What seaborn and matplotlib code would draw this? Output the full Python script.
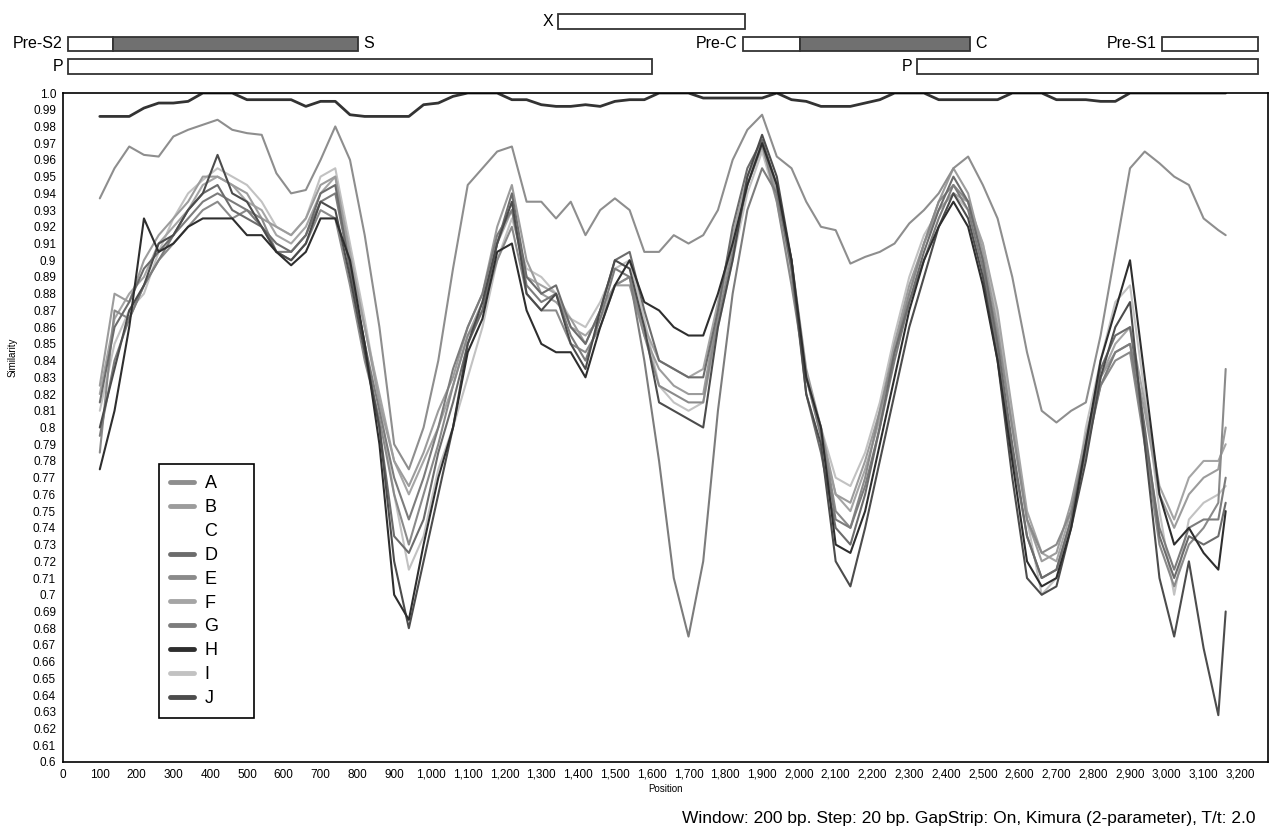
import numpy as np
import pandas as pd
import matplotlib
matplotlib.use('Agg')
import matplotlib.pyplot as plt
from matplotlib.lines import Line2D
from matplotlib.ticker import MultipleLocator, FuncFormatter
import seaborn as sns

# window midpoints (bp)
positions = list(range(100, 3141, 40)) + [3160]

top_line = [.986, .986, .986, .991, .994, .994, .995, 1.0, 1.0, 1.0,
            .996, .996, .996, .996, .992, .995, .995, .987, .986, .986,
            .986, .986, .993, .994, .998, 1.0, 1.0, 1.0, .996, .996,
            .993, .992, .992, .993, .992, .995, .996, .996, 1.0, 1.0,
            1.0, .997, .997, .997, .997, .997, 1.0, .996, .995, .992,
            .992, .992, .994, .996, 1.0, 1.0, 1.0, .996, .996, .996,
            .996, .996, 1.0, 1.0, 1.0, .996, .996, .996, .995, .995,
            1.0, 1.0, 1.0, 1.0, 1.0, 1.0, 1.0, 1.0]

seq_a = [.937, .955, .968, .963, .962, .974, .978, .981, .984, .978,
         .976, .975, .952, .940, .942, .960, .980, .960, .915, .860,
         .790, .775, .800, .840, .895, .945, .955, .965, .968, .935,
         .935, .925, .935, .915, .930, .937, .930, .905, .905, .915,
         .910, .915, .930, .960, .978, .987, .962, .955, .935, .920,
         .918, .898, .902, .905, .910, .922, .930, .940, .955, .962,
         .945, .925, .890, .845, .810, .803, .810, .815, .855, .905,
         .955, .965, .958, .950, .945, .925, .918, .915]

seq_b = [.825, .880, .875, .900, .915, .925, .935, .950, .950, .945,
         .940, .925, .920, .915, .925, .945, .950, .900, .860, .815,
         .780, .765, .785, .810, .830, .860, .880, .920, .945, .900,
         .880, .875, .865, .850, .870, .885, .885, .855, .835, .825,
         .820, .820, .870, .910, .945, .968, .940, .900, .835, .800,
         .760, .755, .780, .810, .850, .885, .910, .935, .955, .940,
         .905, .860, .800, .745, .720, .725, .755, .795, .830, .845,
         .850, .810, .760, .740, .760, .770, .775, .800]

seq_d = [.815, .860, .875, .895, .905, .915, .930, .940, .945, .930,
         .925, .920, .910, .905, .915, .940, .945, .895, .850, .800,
         .735, .725, .745, .785, .815, .850, .870, .910, .940, .890,
         .880, .885, .860, .850, .870, .900, .905, .870, .840, .835,
         .830, .830, .870, .920, .955, .972, .945, .895, .820, .785,
         .740, .730, .760, .800, .845, .875, .905, .930, .950, .935,
         .900, .850, .790, .735, .710, .715, .745, .790, .835, .855,
         .860, .800, .735, .710, .735, .730, .735, .755]

seq_e = [.785, .870, .865, .885, .900, .910, .920, .930, .935, .925,
         .930, .925, .905, .900, .910, .930, .925, .885, .840, .805,
         .760, .730, .760, .790, .825, .855, .870, .900, .920, .880,
         .870, .870, .850, .845, .860, .885, .890, .855, .825, .820,
         .815, .815, .865, .905, .945, .970, .935, .885, .830, .800,
         .750, .740, .770, .810, .845, .880, .910, .935, .945, .935,
         .900, .855, .800, .745, .725, .730, .750, .790, .825, .840,
         .845, .790, .730, .705, .730, .740, .755, .835]

seq_f = [.820, .865, .880, .890, .910, .920, .930, .945, .950, .945,
         .935, .930, .915, .910, .920, .940, .950, .905, .860, .820,
         .780, .760, .780, .800, .825, .855, .875, .910, .930, .890,
         .885, .880, .860, .855, .865, .885, .890, .860, .840, .835,
         .830, .835, .875, .915, .950, .970, .940, .900, .830, .795,
         .760, .750, .775, .805, .850, .880, .910, .930, .940, .935,
         .910, .870, .810, .750, .725, .720, .750, .795, .830, .850,
         .860, .815, .765, .745, .770, .780, .780, .790]

seq_g = [.795, .840, .865, .885, .900, .915, .925, .935, .940, .935,
         .930, .920, .905, .905, .915, .935, .940, .895, .850, .810,
         .770, .745, .770, .800, .835, .860, .880, .915, .930, .885,
         .875, .880, .855, .840, .865, .895, .890, .840, .780, .710,
         .675, .720, .810, .880, .930, .955, .940, .895, .830, .795,
         .745, .740, .765, .800, .840, .875, .900, .925, .945, .930,
         .895, .845, .785, .735, .710, .715, .745, .785, .825, .845,
         .850, .795, .740, .715, .740, .745, .745, .770]

seq_h = [.775, .810, .860, .925, .905, .910, .920, .925, .925, .925,
         .915, .915, .905, .897, .905, .925, .925, .900, .850, .790,
         .700, .685, .730, .770, .800, .845, .865, .905, .910, .870,
         .850, .845, .845, .830, .860, .885, .900, .875, .870, .860,
         .855, .855, .880, .910, .945, .970, .945, .900, .830, .800,
         .730, .725, .750, .790, .830, .870, .900, .920, .935, .920,
         .885, .840, .780, .720, .705, .710, .740, .790, .840, .870,
         .900, .830, .760, .730, .740, .725, .715, .750]

seq_i = [.810, .850, .870, .880, .905, .925, .940, .948, .955, .950,
         .945, .935, .920, .915, .925, .950, .955, .910, .865, .815,
         .760, .715, .735, .775, .800, .830, .860, .900, .925, .895,
         .890, .880, .865, .860, .875, .895, .900, .865, .825, .815,
         .810, .815, .860, .900, .940, .965, .935, .890, .830, .800,
         .770, .765, .785, .815, .855, .890, .915, .930, .940, .930,
         .910, .865, .805, .745, .700, .710, .745, .800, .840, .875,
         .885, .820, .750, .700, .745, .755, .760, .765]

seq_j = [.800, .835, .870, .885, .910, .915, .930, .940, .963, .940,
         .935, .920, .905, .900, .910, .935, .930, .890, .845, .800,
         .720, .680, .720, .760, .800, .850, .875, .910, .935, .880,
         .870, .880, .850, .835, .870, .900, .895, .860, .815, .810,
         .805, .800, .860, .900, .950, .975, .950, .900, .820, .790,
         .720, .705, .740, .780, .820, .860, .890, .920, .940, .925,
         .890, .840, .770, .710, .700, .705, .740, .780, .830, .860,
         .875, .790, .710, .675, .720, .668, .628, .690]

legend_names = ['A', 'B', 'C', 'D', 'E', 'F', 'G', 'H', 'I', 'J']
line_colors = {'A': '#8e8e8e', 'B': '#9c9c9c', 'C': '#ffffff', 'D': '#6c6c6c',
               'E': '#8a8a8a', 'F': '#a5a5a5', 'G': '#7c7c7c', 'H': '#2e2e2e',
               'I': '#c2c2c2', 'J': '#4c4c4c', 'top': '#333333'}

# genome map (bp)
gene_labels = ['X', 'Pre-S2', 'S', 'Pre-C', 'C', 'Pre-S1', 'P', 'P']
gene_row = [2, 1, 1, 1, 1, 1, 0, 0]
gene_start = [1346, 14, 136, 1847, 2003, 2986, 14, 2322]
gene_end = [1853, 136, 801, 2003, 2466, 3248, 1602, 3248]
gene_shaded = [False, False, True, False, True, False, False, False]
label_side = ['left', 'left', 'right', 'left', 'right', 'left', 'left', 'left']

series = {'A': seq_a, 'B': seq_b, 'D': seq_d, 'E': seq_e, 'F': seq_f,
          'G': seq_g, 'H': seq_h, 'I': seq_i, 'J': seq_j}
df = pd.concat([pd.DataFrame({'Position': positions, 'Similarity': v, 'Sequence': k})
                for k, v in series.items()], ignore_index=True)
draw_order = ['I', 'F', 'B', 'A', 'E', 'G', 'D', 'J', 'H']

sns.set_style('white')
plt.rcParams['font.family'] = ['Liberation Sans', 'DejaVu Sans']
plt.rcParams['text.color'] = 'black'

fig = plt.figure(figsize=(12.76, 8.31), dpi=100)
ax = fig.add_axes([63 / 1276, 1 - 762 / 831, (1268 - 63) / 1276, (762 - 93) / 831])
ax_map = fig.add_axes([63 / 1276, 1 - 78 / 831, (1268 - 63) / 1276, 68 / 831], sharex=ax)

sns.lineplot(data=df, x='Position', y='Similarity', hue='Sequence', hue_order=draw_order,
             palette=line_colors, estimator=None, sort=False, linewidth=1.5,
             legend=False, ax=ax)
sns.lineplot(x=positions, y=top_line, color=line_colors['top'], linewidth=2,
             estimator=None, sort=False, ax=ax)

ax.set_xlim(0, 3275)
ax.set_ylim(0.6, 1.0)
ax.xaxis.set_major_locator(MultipleLocator(100))
ax.xaxis.set_major_formatter(FuncFormatter(lambda v, p: f'{v:,.0f}'))
ax.yaxis.set_major_locator(MultipleLocator(0.01))
ax.yaxis.set_major_formatter(FuncFormatter(
    lambda v, p: '1.0' if abs(v - 1) < 1e-6 else f'{v:.2f}'.rstrip('0')))
ax.tick_params(axis='both', direction='out', length=3, width=0.8,
               labelsize=8.5, colors='black', pad=2)
for s in ax.spines.values():
    s.set_color('black')
    s.set_linewidth(1.2)
ax.set_xlabel('Position', fontsize=7, labelpad=2, color='black')
ax.set_ylabel('Similarity', fontsize=7, color='black')
ax.yaxis.set_label_coords(-0.038, 0.605)

handles = [Line2D([0], [0], color=line_colors[n], lw=3.5) for n in legend_names]
leg = ax.legend(handles, [n + '     ' for n in legend_names], loc='lower left',
                bbox_to_anchor=(0.08, 0.066), fontsize=13, frameon=True, fancybox=False,
                framealpha=1, handlelength=1.3, handletextpad=0.6, labelspacing=0.38,
                borderpad=0.6, borderaxespad=0, labelcolor='black')
leg.get_frame().set_edgecolor('black')
leg.get_frame().set_linewidth(1.2)

# gene map boxes
for lab, row, st, en, sh, side in zip(gene_labels, gene_row, gene_start, gene_end,
                                      gene_shaded, label_side):
    ax_map.barh(row, en - st, left=st, height=0.66,
                color='#707070' if sh else 'white', edgecolor='#333333', linewidth=1.3)
    if side == 'left':
        ax_map.text(st - 14, row, lab, ha='right', va='center', fontsize=11.5)
    else:
        ax_map.text(en + 14, row, lab, ha='left', va='center', fontsize=11.5)
ax_map.set_ylim(-0.5, 2.5)
ax_map.axis('off')

fig.text(1255 / 1276, 1 - 818 / 831, 'Window: 200 bp. Step: 20 bp. GapStrip: On, '
         'Kimura (2-parameter), T/t: 2.0', ha='right', va='center', fontsize=12.5)

fig.savefig('out.png', dpi=100)
